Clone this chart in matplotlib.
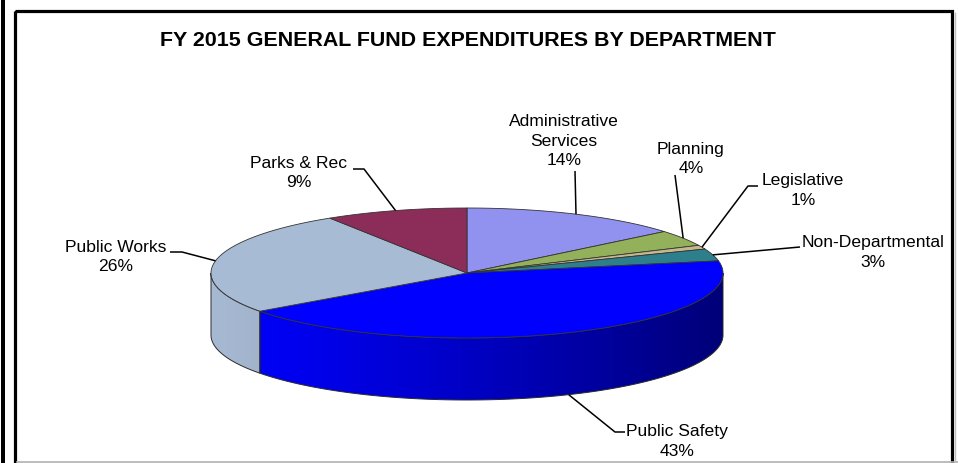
import numpy as np
import matplotlib
matplotlib.use("Agg")
import matplotlib.pyplot as plt
from matplotlib.patches import Polygon, Rectangle
from matplotlib.colors import to_rgb

plt.rcParams['font.family'] = ['Liberation Sans', 'DejaVu Sans']

# ---- data -------------------------------------------------------------
departments = ["Administrative\nServices", "Planning", "Legislative",
               "Non-Departmental", "Public Safety", "Public Works", "Parks & Rec"]
shares = [14, 4, 1, 3, 43, 26, 9]          # percent of general fund
colors = ["#9191EF", "#93B15A", "#C4B98C", "#2E7F8C",
          "#0000FF", "#A8BBD4", "#8C2D59"]
title = "FY 2015 GENERAL FUND EXPENDITURES BY DEPARTMENT"

# ---- layout (canvas units = pixels, y grows downward) -----------------
W, H = 958, 463
cx, cy = 467, 273          # centre of the top face
rx, ry = 256, 65           # radii of the tilted top ellipse
depth = 62                 # thickness of the pie

# label block centre, and the leader path drawn from the text side
label_pos = [(564, 141), (691, 159), (803, 190.5), (873, 252.5),
             (677, 441.5), (116, 257), (299, 173)]
leader_start = [[(575, 171)],
                [(675, 175)],
                [(758, 186), (748, 186)],
                [(800, 247)],
                [(625, 432), (615, 432)],
                [(170, 252), (182, 252)],
                [(353, 169), (364, 169)]]

fig = plt.figure(figsize=(W / 100, H / 100), dpi=100)
ax = fig.add_axes([0, 0, 1, 1])
ax.set_xlim(0, W)
ax.set_ylim(H, 0)
ax.axis("off")


def pt(theta_deg, drop=0.0):
    t = np.radians(theta_deg)
    return cx + rx * np.sin(t), cy - ry * np.cos(t) + drop


def arc(t0, t1, drop=0.0, n=None):
    n = n or max(int(abs(t1 - t0) * 2) + 2, 3)
    th = np.linspace(t0, t1, n)
    xs, ys = pt(th, drop)
    return np.column_stack([xs, ys])


vals = np.array(shares, dtype=float)
bounds = np.concatenate([[0], np.cumsum(vals) / vals.sum() * 360.0])

# ---- front side walls with horizontal shading -------------------------
xg = np.linspace(cx - rx, cx + rx, 400)
frac = (xg - (cx - rx)) / (2 * rx)
shade = 0.99 - 0.52 * frac ** 1.25
for i in range(len(vals)):
    t0, t1 = max(bounds[i], 90.0), min(bounds[i + 1], 270.0)
    if t1 <= t0:
        continue
    top = arc(t0, t1)
    bot = arc(t1, t0, drop=depth)
    poly = Polygon(np.vstack([top, bot]), closed=True, facecolor="none",
                   edgecolor="#2a2a2a", lw=0.7, zorder=3)
    ax.add_patch(poly)
    base = np.array(to_rgb(colors[i]))
    img = np.clip(shade[None, :, None] * base[None, None, :], 0, 1)
    img = np.repeat(img, 2, axis=0)
    im = ax.imshow(img, extent=(cx - rx, cx + rx, cy + ry + depth, cy - ry - 2),
                   aspect="auto", interpolation="bilinear", zorder=2)
    im.set_clip_path(poly)

# ---- top faces --------------------------------------------------------
for i in range(len(vals)):
    pts = np.vstack([[cx, cy], arc(bounds[i], bounds[i + 1])])
    ax.add_patch(Polygon(pts, closed=True, facecolor=colors[i],
                         edgecolor="#333333", lw=0.6, zorder=4))

# ---- labels and leader lines -----------------------------------------
for i, name in enumerate(departments):
    mid = (bounds[i] + bounds[i + 1]) / 2
    front = 90 < mid < 270 and abs(np.cos(np.radians(mid))) > 0.6
    tip = pt(mid, drop=depth if front else 0.0)
    path = leader_start[i] + [tip]
    xs, ys = zip(*path)
    ax.plot(xs, ys, color="black", lw=1.1, zorder=5, solid_capstyle="butt")
    lx, ly = label_pos[i]
    ax.text(lx, ly, f"{name}\n{shares[i]}%", ha="center", va="center",
            multialignment="center", fontsize=12.6, linespacing=1.35,
            color="black", zorder=6)

ax.text(467.5, 40, title, ha="center", va="center", fontsize=15.4,
        fontweight="bold", color="black")

# ---- chart frame ------------------------------------------------------
ax.add_patch(Rectangle((15, 10.5), 952.5 - 15, 480, fill=False,
                       edgecolor="black", lw=2.3, zorder=7, clip_on=False))
ax.add_patch(Rectangle((1, -5), 4, H + 10, facecolor="black",
                       edgecolor="none", zorder=7))
ax.plot([17, W], [462, 462], color="#b0b0b0", lw=1.2, zorder=7)
ax.plot([955.5, 955.5], [13, H], color="#c0c0c0", lw=1.0, zorder=7)

fig.savefig("out.png", dpi=100)
